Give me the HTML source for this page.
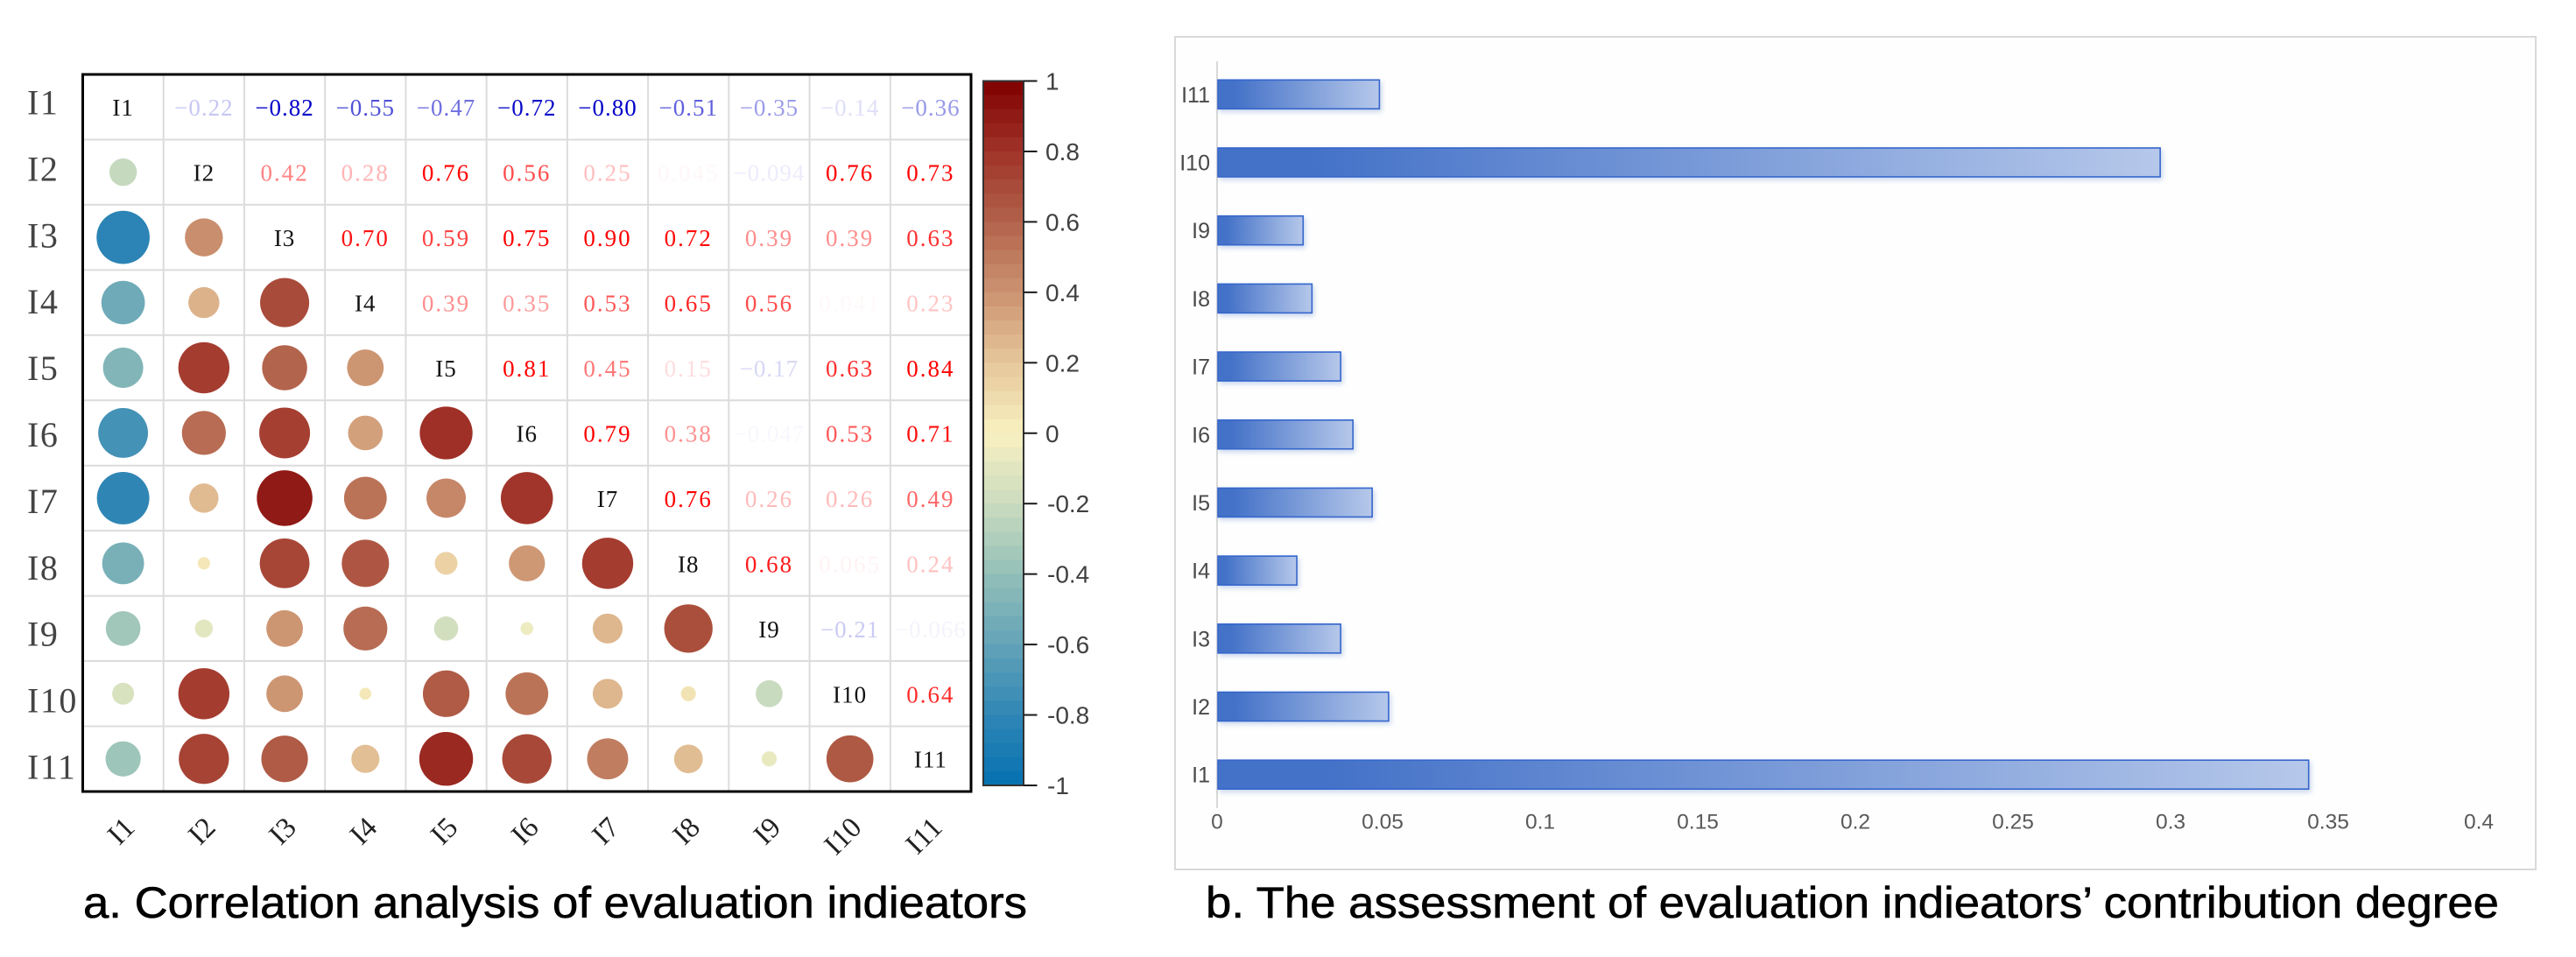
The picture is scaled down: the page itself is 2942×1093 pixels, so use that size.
<!DOCTYPE html>
<html lang="en">
<head>
<meta charset="utf-8">
<title>Evaluation indicators</title>
<style>
  html, body { margin: 0; padding: 0; background: #ffffff; }
  svg { display: block; }
  .serif { font-family: "Liberation Serif", serif; }
  .sans { font-family: "Liberation Sans", sans-serif; }
</style>
</head>
<body>
<svg id="figure" xmlns="http://www.w3.org/2000/svg" width="2942" height="1093" viewBox="0 0 2942 1093">
  <defs>
    <linearGradient id="barFill" x1="0" y1="0" x2="1" y2="0">
      <stop offset="0" stop-color="#4472c8"/>
      <stop offset="0.1" stop-color="#4472c8"/>
      <stop offset="1" stop-color="#b6c8ea"/>
    </linearGradient>
  </defs>
  <rect x="0" y="0" width="2942" height="1093" fill="#ffffff"/>
  <g id="matrixGrid"></g>
  <g id="matrixMarks"></g>
  <rect x="94.5" y="85" width="1014.5" height="819" fill="none" stroke="#000000" stroke-width="3"/>
  <g id="rowLabels"></g>
  <g id="colLabels"></g>
  <g id="colorbar"></g>
  <text class="sans" x="95" y="1048" font-size="50" fill="#000000" stroke="#000000" stroke-width="0.6" textLength="1078" lengthAdjust="spacingAndGlyphs">a. Correlation analysis of evaluation indieators</text>

  <rect x="1342" y="42" width="1554" height="951" fill="#fefefe" stroke="#d9d9d9" stroke-width="2"/>
  <g id="barChart"></g>
  <text class="sans" x="1377" y="1048" font-size="50" fill="#000000" stroke="#000000" stroke-width="0.6" textLength="1477" lengthAdjust="spacingAndGlyphs">b. The assessment of evaluation indieators’ contribution degree</text>
</svg>

<script>
const indicators = ['I1','I2','I3','I4','I5','I6','I7','I8','I9','I10','I11'];
const upperTriangle = [
  [-0.22,-0.82,-0.55,-0.47,-0.72,-0.80,-0.51,-0.35,-0.14,-0.36],
  [0.42,0.28,0.76,0.56,0.25,0.045,-0.094,0.76,0.73],
  [0.70,0.59,0.75,0.90,0.72,0.39,0.39,0.63],
  [0.39,0.35,0.53,0.65,0.56,0.041,0.23],
  [0.81,0.45,0.15,-0.17,0.63,0.84],
  [0.79,0.38,-0.047,0.53,0.71],
  [0.76,0.26,0.26,0.49],
  [0.68,0.065,0.24],
  [-0.21,-0.066],
  [0.64]
];
const colorbarTicks = [1,0.8,0.6,0.4,0.2,0,-0.2,-0.4,-0.6,-0.8,-1];
const colormapValues = [-1,-0.8,-0.6,-0.4,-0.2,0,0.2,0.4,0.6,0.8,1];
const colormapColors = ['#0571b0','#2f86b5','#63a3b8','#93bfb8','#cbdcbf','#f8f0c0','#e6c79b','#cc9371','#b2624b','#a03329','#7f0000'];
const barCategories = ['I1','I2','I3','I4','I5','I6','I7','I8','I9','I10','I11'];
const barValues = [0.3463,0.0544,0.0392,0.0253,0.0492,0.0431,0.0392,0.0301,0.0273,0.2992,0.0515];
const barAxisTicks = [0,0.05,0.1,0.15,0.2,0.25,0.3,0.35,0.4];

const NS = 'http://www.w3.org/2000/svg';
function svgEl(tag, attrs, parent, text) {
  const el = document.createElementNS(NS, tag);
  for (const k in attrs) el.setAttribute(k, attrs[k]);
  if (text !== undefined) el.textContent = text;
  parent.appendChild(el);
  return el;
}

/* ---- matrix scales ---- */
const M_LEFT = 94.5, M_TOP = 85, COL_W = 92.23, ROW_H = 74.45;
const colX = i => M_LEFT + COL_W * (i + 0.5);
const rowY = i => M_TOP + ROW_H * (i + 0.5);
const radius = v => 33.5 * Math.sqrt(Math.abs(v));

function hexRgb(h) { return [1,3,5].map(p => parseInt(h.substr(p,2),16)); }
function colormap(v) {
  let i = 0;
  while (i < colormapValues.length - 2 && v > colormapValues[i+1]) i++;
  const t = (v - colormapValues[i]) / (colormapValues[i+1] - colormapValues[i]);
  const a = hexRgb(colormapColors[i]), b = hexRgb(colormapColors[i+1]);
  const c = a.map((x,j) => Math.round(x + (b[j]-x)*t));
  return 'rgb(' + c.join(',') + ')';
}
function textColor(v) {
  const alpha = Math.min(1, 1.45 * Math.pow(Math.abs(v), 1.25));
  const base = v < 0 ? [0,0,200] : [255,0,0];
  const c = base.map(x => Math.round(255 + (x-255)*alpha));
  return 'rgb(' + c.join(',') + ')';
}
function fmt(v) {
  const a = Math.abs(v);
  const s = a < 0.1 ? a.toFixed(3) : a.toFixed(2);
  return (v < 0 ? '\u2212' : '') + s;
}

/* ---- grid ---- */
const gridG = document.getElementById('matrixGrid');
for (let i = 1; i < indicators.length; i++) {
  const vLine = svgEl('line', {x1:M_LEFT+COL_W*i, y1:M_TOP, x2:M_LEFT+COL_W*i, y2:M_TOP+ROW_H*indicators.length, stroke:'#dcdcdc', 'stroke-width':2}, gridG);
  
  
  const hLine = svgEl('line', {x1:M_LEFT, y1:M_TOP+ROW_H*i, x2:M_LEFT+COL_W*indicators.length, y2:M_TOP+ROW_H*i, stroke:'#dcdcdc', 'stroke-width':2}, gridG);
  
  
}

/* ---- cells ---- */
const marksG = document.getElementById('matrixMarks');
indicators.forEach((name, i) => {
  const diag = svgEl('text', {x:colX(i), y:rowY(i)+10, 'text-anchor':'middle', 'font-size':27, fill:'#111111', class:'serif', 'letter-spacing':1}, marksG, name);
  
  
});
upperTriangle.forEach((row, i) => {
  row.forEach((v, k) => {
    const j = i + 1 + k;
    const label = svgEl('text', {x:colX(j), y:rowY(i)+10, 'text-anchor':'middle', 'font-size':27, fill:textColor(v), class:'serif', 'letter-spacing': v < 0 ? 1 : 2}, marksG, fmt(v));
    
    
    const dot = svgEl('circle', {cx:colX(i), cy:rowY(j), r:radius(v), fill:colormap(v)}, marksG);
    
    
  });
});

/* ---- row and column labels ---- */
const rowG = document.getElementById('rowLabels');
const colG = document.getElementById('colLabels');
indicators.forEach((name, i) => {
  const rl = svgEl('text', {x:31, y:130.5+75.9*i, 'font-size':40, fill:'#444444', class:'serif', 'letter-spacing':1.5}, rowG, name);
  
  
  const x = colX(i) + 15, y = 947;
  const cl = svgEl('text', {x:x, y:y, 'text-anchor':'end', 'font-size':33, fill:'#222222', class:'serif', transform:'rotate(-45 '+x+' '+y+')'}, colG, name);
  
  
});

/* ---- colorbar ---- */
const cbG = document.getElementById('colorbar');
const CB_LEFT = 1123, CB_RIGHT = 1169, CB_TOP = 92.5, CB_BOTTOM = 897;
const cbY = v => CB_TOP + (1 - v) / 2 * (CB_BOTTOM - CB_TOP);
const BANDS = 50;
for (let b = 0; b < BANDS; b++) {
  const hi = 1 - 2 * b / BANDS, lo = 1 - 2 * (b + 1) / BANDS;
  const band = svgEl('rect', {x:CB_LEFT, y:cbY(hi), width:CB_RIGHT-CB_LEFT, height:cbY(lo)-cbY(hi)+0.5, fill:colormap((hi+lo)/2)}, cbG);
  
  
}
const cbFrame = svgEl('rect', {x:CB_LEFT, y:CB_TOP, width:CB_RIGHT-CB_LEFT, height:CB_BOTTOM-CB_TOP, fill:'none', stroke:'#333333', 'stroke-width':2}, cbG);


colorbarTicks.forEach(v => {
  const tick = svgEl('line', {x1:CB_RIGHT, y1:cbY(v), x2:1184.5, y2:cbY(v), stroke:'#1a1a1a', 'stroke-width':2}, cbG);
  
  
  const lab = svgEl('text', {x: v < 0 ? 1196 : 1194, y:cbY(v)+10, 'font-size':28, fill:'#404040', class:'sans'}, cbG, String(v));
  
  
});

/* ---- bar chart ---- */
const barG = document.getElementById('barChart');
const xScale = v => 1390 + 3600 * v;
const barCenter = i => 884.7 - 77.69 * i;
const BAR_H = 33;
const axisLine = svgEl('line', {x1:1390, y1:70, x2:1390, y2:923, stroke:'#d9d9d9', 'stroke-width':2}, barG);


barCategories.forEach((name, i) => {
  const cy = barCenter(i);
  const bar = svgEl('rect', {x:xScale(0)+1, y:cy-BAR_H/2, width:xScale(barValues[i])-xScale(0)-1, height:BAR_H, fill:'url(#barFill)', stroke:'#3566cc', 'stroke-width':1.6, style:'filter:drop-shadow(2px 3px 3px rgba(68,114,196,.28))'}, barG);
  
  
  const lab = svgEl('text', {x:1382, y:cy+9, 'text-anchor':'end', 'font-size':25, fill:'#4a4a4a', class:'sans'}, barG, name);
  
  
});
barAxisTicks.forEach(v => {
  const nudge = v === 0 ? 0 : (v >= 0.4 ? 1 : 9);
  const lab = svgEl('text', {x:xScale(v)+nudge, y:946.5, 'text-anchor':'middle', 'font-size':24.5, fill:'#595959', class:'sans'}, barG, String(v));
  
  
});
</script>
</body>
</html>
